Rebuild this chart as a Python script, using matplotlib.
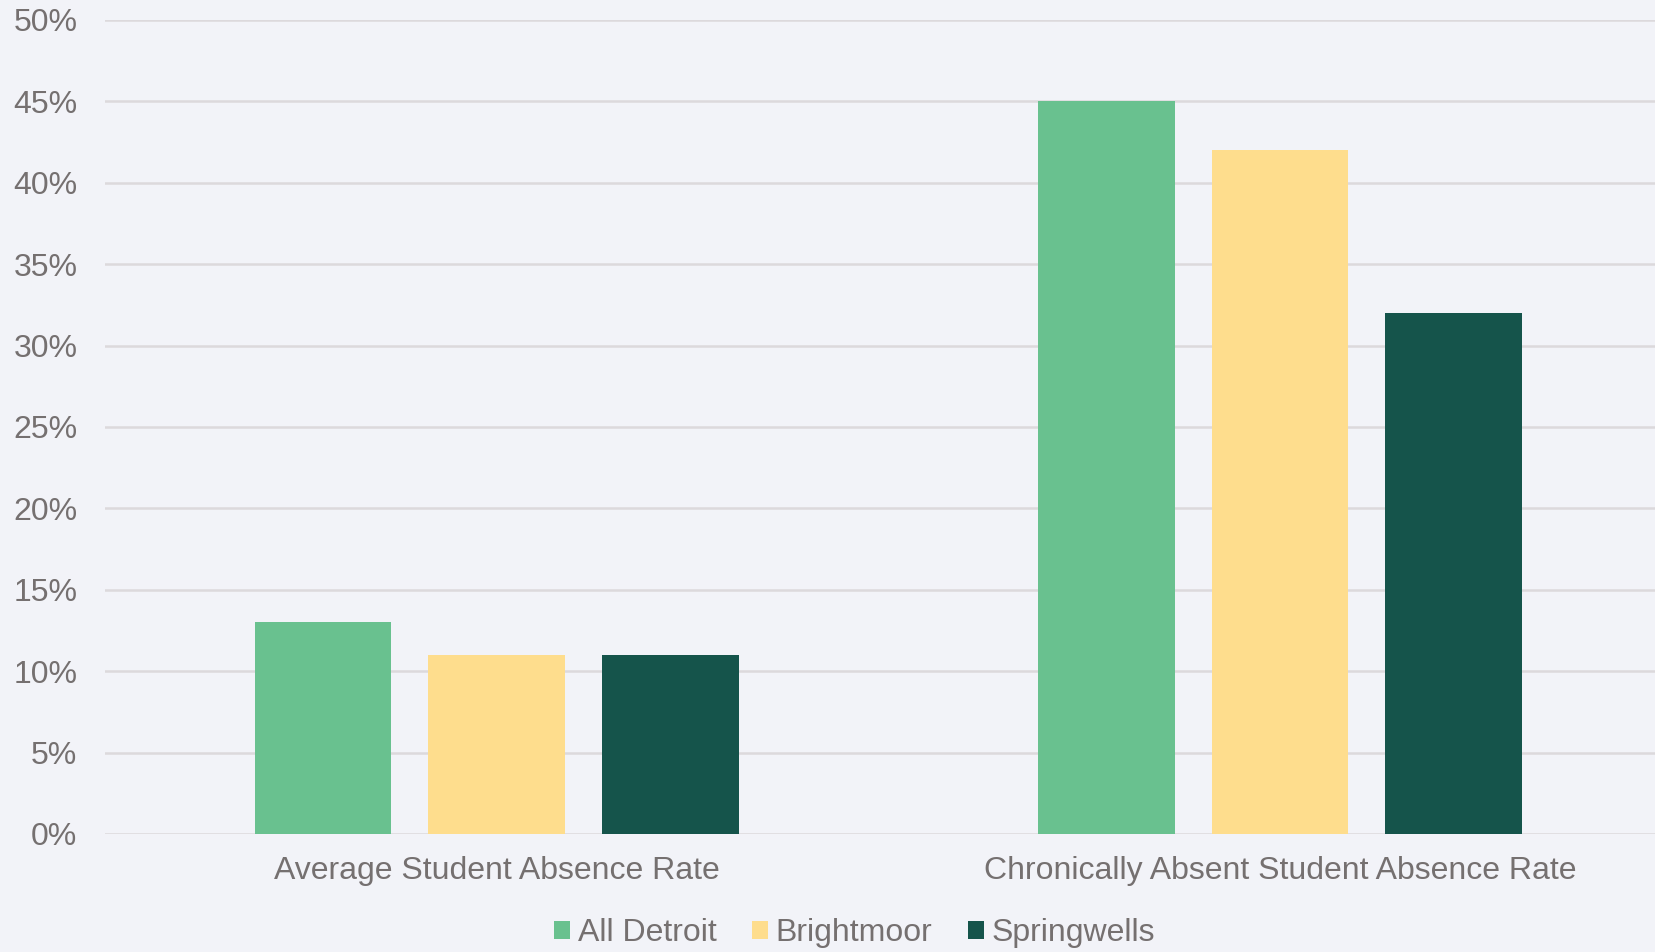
import numpy as np
import matplotlib.pyplot as plt
from matplotlib.ticker import PercentFormatter

categories = ["Average Student Absence Rate", "Chronically Absent Student Absence Rate"]
series_names = ["All Detroit", "Brightmoor", "Springwells"]
all_detroit = [13, 45]
brightmoor = [11, 42]
springwells = [11, 32]
colors = ["#69c18f", "#fedd8d", "#15544b"]

bg = "#f2f3f8"
text_col = "#757070"
plt.rcParams["font.family"] = ["Liberation Sans", "DejaVu Sans"]

fig = plt.figure(figsize=(16.56, 9.52), dpi=100, facecolor=bg)
ax = fig.add_axes([0.0635, 0.124, 0.946, 0.855], facecolor=bg)

x = np.arange(len(categories))
width = 0.1745
step = 0.2217
for i, (name, vals) in enumerate(zip(series_names, [all_detroit, brightmoor, springwells])):
    ax.bar(x + (i - 1) * step, vals, width, color=colors[i], label=name, zorder=3)

ax.set_xlim(-0.5, 1.5)
ax.set_ylim(0, 50)
ax.set_yticks(np.arange(0, 51, 5))
ax.yaxis.set_major_formatter(PercentFormatter(decimals=0))
ax.set_xticks(x)
ax.set_xticklabels(categories)
ax.grid(axis="y", color="#dcd9dc", linewidth=1.8, zorder=0)
for s in ax.spines.values():
    s.set_visible(False)
ax.tick_params(axis="both", length=0, labelsize=23, colors=text_col)
ax.tick_params(axis="y", pad=20)
ax.tick_params(axis="x", pad=16)

fig.legend(loc="center", bbox_to_anchor=(0.516, 0.02), ncol=3, frameon=False,
           fontsize=23, labelcolor=text_col, handlelength=0.5, handleheight=0.5,
           handletextpad=0.25, columnspacing=1.1)

fig.savefig("out.png", dpi=100, facecolor=bg)
